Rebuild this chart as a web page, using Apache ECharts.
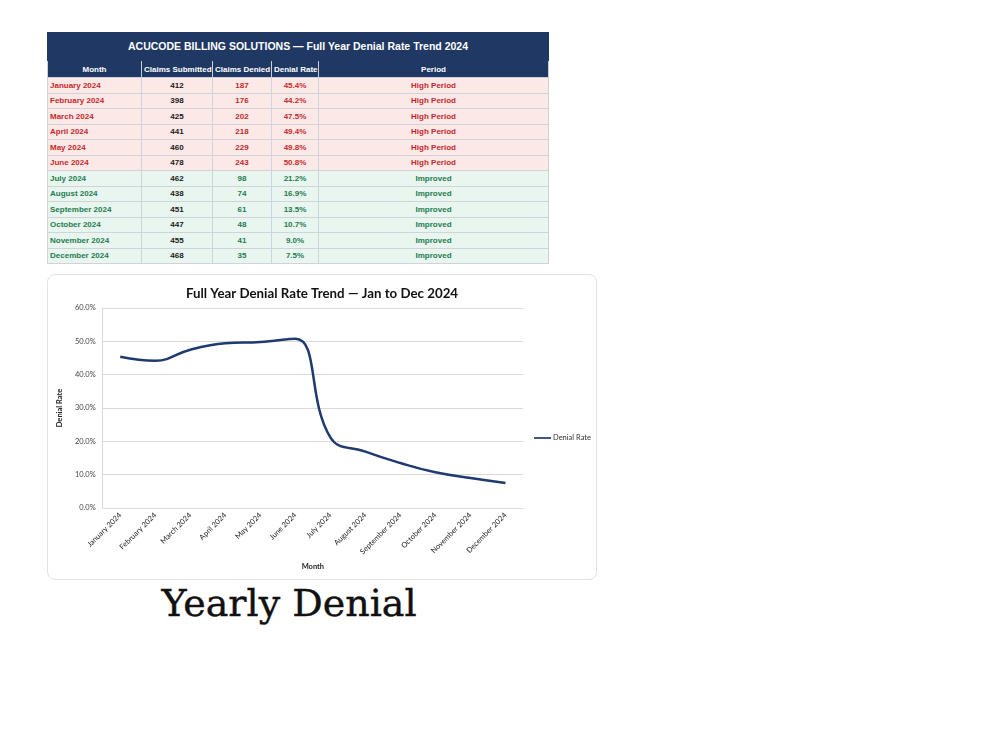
<!DOCTYPE html>
<html>
<head>
<meta charset="utf-8">
<script src="https://cdn.jsdelivr.net/npm/echarts@6/dist/echarts.min.js"></script>
<style>
  html, body { margin: 0; padding: 0; background: #ffffff; width: 1000px; height: 750px; overflow: hidden; }
  #tbl { position: absolute; left: 47px; top: 32px; width: 501px; border-collapse: collapse; font-family: "Liberation Sans", Arial, sans-serif; font-weight: bold; font-size: 8px; table-layout: fixed; }
  #tbl td, #tbl th { border: 1px solid #cfd4d8; padding: 0 2px; height: 14.5px; line-height: 13px; white-space: nowrap; overflow: hidden; }
  #tbl .ttl { background: #1f3864; color: #ffffff; font-size: 10.5px; height: 27px; text-align: center; border-color: #1f3864; }
  #tbl .hdr th { background: #1f3864; color: #ffffff; font-size: 8px; height: 16px; text-align: center; border-color: #c9cfd6; }
  #tbl tr.hi td { background: #fde8e8; color: #c62828; }
  #tbl tr.im td { background: #e8f6ef; color: #1e7b4f; }
  #tbl td.c { text-align: center; }
  #tbl td.sub { color: #1a1a1a !important; }
  #chartBox { position: absolute; left: 47px; top: 274px; width: 548px; height: 304px; border: 1px solid #e2e2e2; border-radius: 8px; background: #fff; }
  #chart { width: 548px; height: 304px; }
  #caption { position: absolute; left: 47px; width: 484px; top: 581px; text-align: center; font-family: "DejaVu Serif", "Liberation Serif", serif; font-size: 38px; color: #111; -webkit-text-stroke: 0.4px #111; }
</style>
</head>
<body>
<table id="tbl">
  <colgroup>
    <col style="width:94px"><col style="width:71px"><col style="width:59px"><col style="width:47px"><col style="width:230px">
  </colgroup>
  <thead>
    <tr><th class="ttl" colspan="5" id="tblTitle"></th></tr>
    <tr class="hdr" id="hdrRow"></tr>
  </thead>
  <tbody id="tbody"></tbody>
</table>
<div id="chartBox"><div id="chart"></div></div>
<div id="caption">Yearly Denial</div>
<script>
const tableTitle = "ACUCODE BILLING SOLUTIONS — Full Year Denial Rate Trend 2024";
const headers = ["Month", "Claims Submitted", "Claims Denied", "Denial Rate", "Period"];
const months = ["January 2024","February 2024","March 2024","April 2024","May 2024","June 2024","July 2024","August 2024","September 2024","October 2024","November 2024","December 2024"];
const submitted = [412, 398, 425, 441, 460, 478, 462, 438, 451, 447, 455, 468];
const denied = [187, 176, 202, 218, 229, 243, 98, 74, 61, 48, 41, 35];
const denialRate = [45.4, 44.2, 47.5, 49.4, 49.8, 50.8, 21.2, 16.9, 13.5, 10.7, 9.0, 7.5];
const periods = ["High Period","High Period","High Period","High Period","High Period","High Period","Improved","Improved","Improved","Improved","Improved","Improved"];
const yTicks = [0, 10, 20, 30, 40, 50, 60];

document.getElementById('tblTitle').textContent = tableTitle;
const hdr = document.getElementById('hdrRow');
headers.forEach(h => { const th = document.createElement('th'); th.textContent = h; hdr.appendChild(th); });
const tb = document.getElementById('tbody');
months.forEach((m, i) => {
  const tr = document.createElement('tr');
  tr.className = periods[i] === 'High Period' ? 'hi' : 'im';
  const cells = [
    [m, ''],
    [String(submitted[i]), 'c sub'],
    [String(denied[i]), 'c'],
    [denialRate[i].toFixed(1) + '%', 'c'],
    [periods[i], 'c']
  ];
  cells.forEach(([t, cls]) => { const td = document.createElement('td'); td.textContent = t; if (cls) td.className = cls; tr.appendChild(td); });
  tb.appendChild(tr);
});

const chart = echarts.init(document.getElementById('chart'), null, { renderer: 'canvas' });
const font = 'Lato, "Open Sans", sans-serif';
chart.setOption({
  animation: false,
  title: {
    text: 'Full Year Denial Rate Trend — Jan to Dec 2024',
    left: 'center', top: 7,
    textStyle: { fontFamily: font, fontSize: 13.3, fontWeight: 'bold', color: '#111' }
  },
  legend: {
    data: ['Denial Rate'], orient: 'vertical', left: 486, top: 159, padding: 0,
    icon: 'path://M0,0 L20,0 L20,2 L0,2 Z', itemWidth: 17, itemHeight: 2, itemGap: 4,
    textStyle: { fontFamily: font, fontSize: 7.5, color: '#333', padding: [0, 0, 0, -3] }
  },
  grid: { left: 50, right: 73, top: 33, bottom: 71 },
  xAxis: {
    type: 'category', data: months, boundaryGap: true,
    name: 'Month', nameLocation: 'middle', nameGap: 52,
    nameTextStyle: { fontFamily: font, fontSize: 7.5, fontWeight: 'bold', color: '#222' },
    axisLine: { show: true, lineStyle: { color: '#d9d9d9' } },
    axisTick: { show: false },
    axisLabel: { rotate: 45, interval: 0, fontFamily: font, fontSize: 7.5, color: '#1a1a1a', margin: 6 }
  },
  yAxis: {
    type: 'value', min: yTicks[0], max: yTicks[yTicks.length - 1], interval: 10,
    name: 'Denial Rate', nameLocation: 'middle', nameGap: 32, nameRotate: 90,
    nameTextStyle: { fontFamily: font, fontSize: 7.5, fontWeight: 'bold', color: '#222' },
    axisLine: { show: true, lineStyle: { color: '#d9d9d9' } },
    axisTick: { show: false },
    splitLine: { lineStyle: { color: '#d9d9d9', width: 1 } },
    axisLabel: { formatter: v => v.toFixed(1) + '%', fontFamily: font, fontSize: 7.5, color: '#444', margin: 7 }
  },
  series: [{
    name: 'Denial Rate', type: 'line', data: denialRate, smooth: 0.45,
    symbol: 'none', lineStyle: { color: '#1f3a6e', width: 2.5 }, itemStyle: { color: '#1f3a6e' }
  }]
});
</script>
</body>
</html>
